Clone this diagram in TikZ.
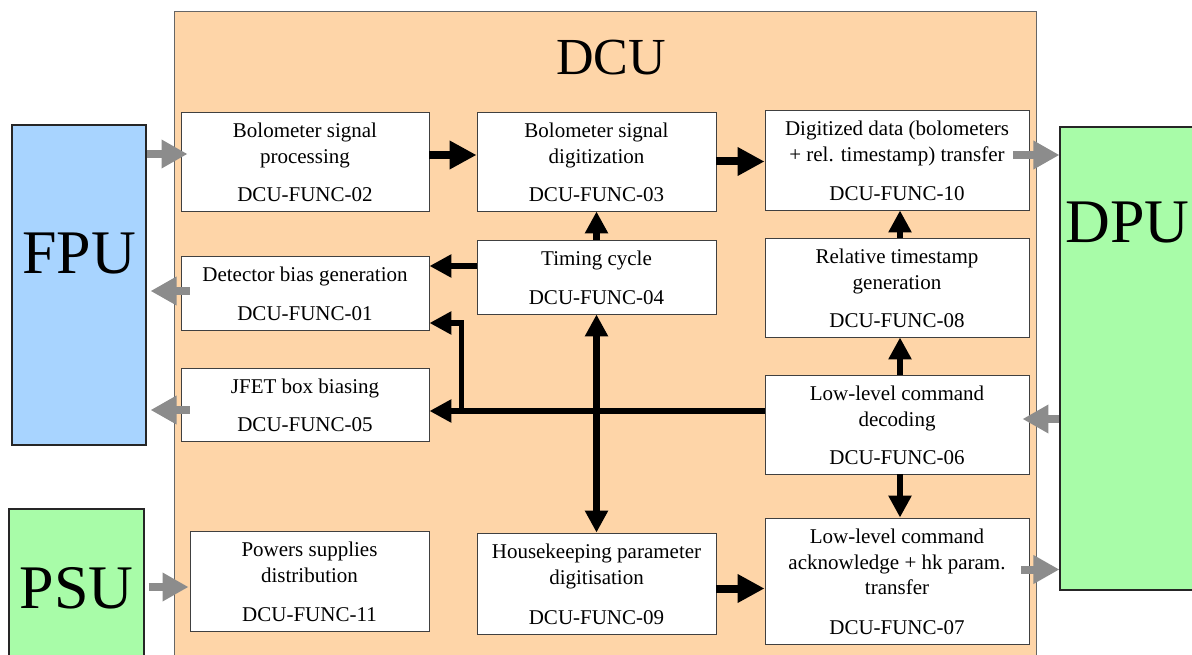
\documentclass[tikz,border=0pt]{standalone}
\usepackage{fontspec}
\setmainfont{Liberation Serif}
\usetikzlibrary{arrows.meta,fit}

\definecolor{dcufill}{RGB}{254,213,168}
\definecolor{fpufill}{RGB}{168,212,255}
\definecolor{unitgreen}{RGB}{168,252,168}
\definecolor{linkgray}{RGB}{140,140,140}

\tikzset{
  fnode/.style={draw=black!75, fill=white, line width=0.9pt, inner sep=0pt},
  unit/.style={draw=black!85, line width=1.1pt, inner sep=0pt},
  ln/.style={font=\fontsize{21}{25}\selectfont, inner sep=0pt, anchor=base},
  huge/.style={font=\fontsize{62}{70}\selectfont, inner sep=0pt, anchor=base},
  blkbig/.style={line width=8pt, -{Triangle[length=27pt,width=27pt]}},
  blkmid/.style={line width=6.5pt, -{Triangle[length=22pt,width=22pt]}},
  blkboth/.style={line width=6.5pt, {Triangle[length=22pt,width=22pt]}-{Triangle[length=22pt,width=22pt]}},
  bus/.style={line width=5.5pt, line join=miter},
  busarrow/.style={bus, -{Triangle[length=22pt,width=22pt]}},
  garrow/.style={draw=linkgray, line width=8pt, -{Triangle[length=26pt,width=27pt]}},
}

% function box: name, x1, y1, x2, y2, identifier, title lines
\newcommand\fnbox[7]{%
  \node[fnode, fit={(#2,#3) (#4,#5)}] (#1) {};
  \foreach \t [count=\i] in {#7} {
    \node[ln] at ([yshift={-26pt-25.5pt*(\i-1)}]#1.north) {\t};
  }
  \node[ln] at ([yshift=10pt]#1.south) {#6};
}

\begin{document}
\begin{tikzpicture}[x=1pt,y=-1pt]
\clip (0,0) rectangle (1192,655);
\fill[white] (0,0) rectangle (1192,655);

% DCU frame
\node[draw=black!60, line width=0.9pt, fill=dcufill, inner sep=0pt, fit={(174,11) (1036,690)}] (dcu) {};
\node[font=\fontsize{52}{60}\selectfont, inner sep=0pt, anchor=base] (dcut) at ([xshift=6pt,yshift=-64pt]dcu.north) {DCU};

% external units
\node[unit, fill=fpufill, fit={(12,125) (146,445)}] (fpu) {};
\node[huge] (fput) at ([yshift=12pt]fpu.center) {FPU};
\node[unit, fill=unitgreen, fit={(1060,127) (1230,590)}] (dpu) {};
\node[huge, anchor=base west] (dput) at ([xshift=6pt,yshift=115.5pt]dpu.west) {DPU};
\node[unit, fill=unitgreen, fit={(9,509) (144,700)}] (psu) {};
\node[huge] (psut) at (76.5,608) {PSU};

% function boxes
\fnbox{f02}{181}{112}{429}{211}{DCU-FUNC-02}{Bolometer signal, processing}
\fnbox{f03}{477}{112}{716}{211}{DCU-FUNC-03}{Bolometer signal, digitization}
\fnbox{f10}{765}{110}{1029}{210}{DCU-FUNC-10}{Digitized data (bolometers, + rel. timestamp) transfer}
\fnbox{f04}{477}{240}{716}{314}{DCU-FUNC-04}{Timing cycle}
\fnbox{f01}{181}{256}{429}{330}{DCU-FUNC-01}{Detector bias generation}
\fnbox{f08}{765}{238}{1029}{337}{DCU-FUNC-08}{Relative timestamp, generation}
\fnbox{f05}{181}{368}{429}{441}{DCU-FUNC-05}{JFET box biasing}
\fnbox{f06}{765}{375}{1029}{474}{DCU-FUNC-06}{Low-level command, decoding}
\fnbox{f11}{190}{531}{429}{631}{DCU-FUNC-11}{Powers supplies, distribution}
\fnbox{f09}{477}{533}{716}{634}{DCU-FUNC-09}{Housekeeping parameter, digitisation}
\fnbox{f07}{765}{518}{1029}{644}{DCU-FUNC-07}{Low-level command, acknowledge + hk param., transfer}

% internal data flow
\draw[blkbig] ([yshift=6.5pt]f02.east) -- ([yshift=6.5pt]f03.west);
\draw[blkbig] (f03.east) -- (f10.west |- f03.east);
\coordinate (h9) at ([yshift=-5pt]f09.east);
\draw[blkbig] (h9) -- (f07.west |- h9);
\draw[blkmid] (f04.north) -- (f03.south);
\coordinate (h4) at ([yshift=11pt]f04.west);
\draw[blkmid] (h4) -- (f01.east |- h4);
\draw[blkmid] ([xshift=3pt]f08.north) -- ([xshift=3pt]f10.south);
\draw[blkmid] ([xshift=3pt]f06.north) -- ([xshift=3pt]f08.south);
\draw[blkmid] ([xshift=3pt]f06.south) -- ([xshift=3pt]f07.north);

% command bus from the decoder
\coordinate (busr) at ([yshift=13.5pt]f06.west);
\coordinate (busj) at ([xshift=32pt]f05.east |- busr);
\draw[busarrow] (busr) -- (f05.east |- busr);
\draw[busarrow] (busj) |- ([yshift=-30pt]f01.east);
\draw[blkboth] (f04.south) -- (f09.north);

% links to the external units
\coordinate (g1) at ([xshift=7pt,yshift=7.5pt]f02.west);
\draw[garrow] (fpu.east |- g1) -- (g1);
\coordinate (g2) at ([xshift=9pt,yshift=2pt]f01.west);
\coordinate (g2e) at ([xshift=4pt]fpu.east |- g2);
\draw[garrow] (g2) -- (g2e);
\coordinate (g3) at ([xshift=9pt,yshift=-5.5pt]f05.west);
\coordinate (g3e) at ([xshift=4pt]fpu.east |- g3);
\draw[garrow] (g3) -- (g3e);
\coordinate (g4) at ([xshift=-16pt,yshift=5pt]f10.east);
\draw[garrow] (g4) -- (dpu.west |- g4);
\coordinate (g5) at ([xshift=-7pt,yshift=5.5pt]f06.east);
\draw[garrow] (dpu.west |- g5) -- (g5);
\coordinate (g6) at ([xshift=-8pt,yshift=11.5pt]f07.east);
\draw[garrow] (g6) -- (dpu.west |- g6);
\coordinate (g7) at ([xshift=-1pt,yshift=-6pt]f11.west);
\coordinate (g7s) at ([xshift=4pt]psu.east |- g7);
\draw[garrow] (g7s) -- (g7);
\end{tikzpicture}
\end{document}
